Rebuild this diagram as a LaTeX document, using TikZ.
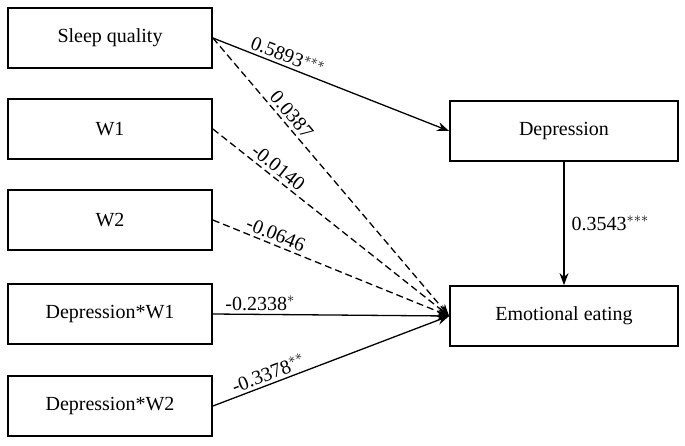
\documentclass[tikz,border=0pt]{standalone}
\usepackage{fontspec}
\setmainfont{Liberation Serif}
\usetikzlibrary{arrows.meta}
\begin{document}
\begin{tikzpicture}[x=1pt,y=-1pt,
  box/.style={draw,line width=1.8pt,minimum width=204pt,minimum height=60pt,font=\fontsize{20}{24}\selectfont,inner sep=0pt},
  rbox/.style={box,minimum width=228pt},
  arr/.style={-{Stealth[length=12pt,width=9pt]},line width=1.3pt},
  darr/.style={arr,dash pattern=on 7pt off 4pt},
  lab/.style={font=\fontsize{20}{24}\selectfont,inner sep=3pt}]
\useasboundingbox (0,0) rectangle (685,445);
\node[box] (sq) at (110,38) {Sleep quality};
\node[box] (w1) at (110,129) {W1};
\node[box] (w2) at (110,220) {W2};
\node[box] (d1) at (110,314) {Depression*W1};
\node[box] (d2) at (110,406) {Depression*W2};
\node[rbox] (dep) at (564,131) {Depression};
\node[rbox] (ee) at (564,316) {Emotional eating};
\coordinate (t) at (ee.west);
\draw[arr] (sq.east) -- (dep.west) node[lab,pos=0.3,sloped,above] {0.5893$^{***}$};
\draw[darr] (sq.east) -- (t) node[lab,pos=0.3,sloped,above] {0.0387};
\draw[darr] (w1.east) -- (t) node[lab,pos=0.25,sloped,above] {-0.0140};
\draw[darr] (w2.east) -- (t) node[lab,pos=0.25,sloped,above] {-0.0646};
\draw[arr] (d1.east) -- (t) node[lab,pos=0.2,above] {-0.2338$^{*}$};
\draw[arr] (d2.east) -- (t) node[lab,pos=0.25,sloped,above] {-0.3378$^{**}$};
\draw[arr] (dep.south) -- (ee.north) node[lab,midway,right=4pt] {0.3543$^{***}$};
\end{tikzpicture}
\end{document}
